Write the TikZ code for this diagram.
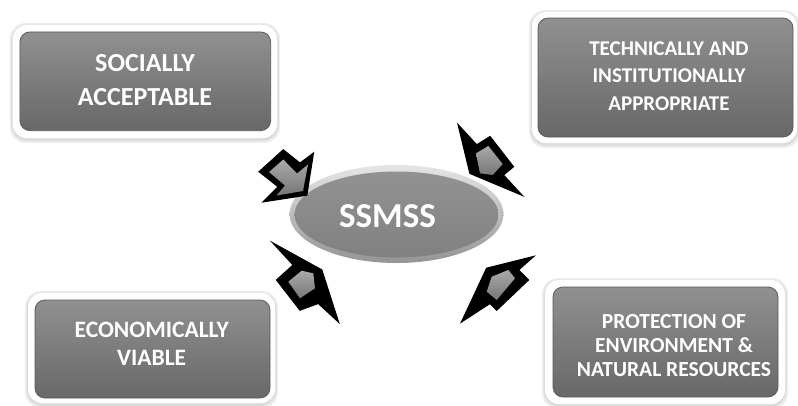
\documentclass[tikz,border=0pt]{standalone}
\usepackage{fontspec}
\setmainfont{Carlito}
\usetikzlibrary{shapes.geometric}
\definecolor{boxtop}{HTML}{909090}
\definecolor{boxbot}{HTML}{686868}
\definecolor{boxedge}{HTML}{5A5A5A}
\definecolor{arrgray}{HTML}{8C8C8C}
\definecolor{ellgray}{HTML}{8C8C8C}
\tikzset{
  frameshadow/.style={fill=black, opacity=0.07, rounded corners=16pt},
  frame/.style={fill=white, rounded corners=14pt},
  box/.style={shade, top color=boxtop, bottom color=boxbot, draw=boxedge, line width=0.8pt,
    rounded corners=10pt, inner sep=0pt},
  boxtext/.style={text=white, align=center, inner sep=0pt, font=\bfseries},
  arrowout/.style={fill=black, draw=black, line width=1.4pt, line join=miter, miter limit=20},
  arrowin/.style={shade, top color=arrgray!75!white, bottom color=arrgray!85!black},
}
\begin{document}
\begin{tikzpicture}[x=1pt,y=-1pt]
\useasboundingbox (0,0) rectangle (798,405);
\fill[white] (0,0) rectangle (798,405);

% ---------- box frames ----------
\foreach \a/\b/\c/\d in {12.7/25/277/138, 532/12/797/143, 28/293/275/403, 545/280/785/404}{
  \fill[frameshadow] (\a-3,\b-2) rectangle (\c+3,\d+5);
  \fill[frameshadow] (\a-1.5,\b-0.5) rectangle (\c+1.5,\d+3);
  \fill[frame] (\a,\b) rectangle (\c,\d);
}

% ---------- boxes ----------
\node[box, minimum width=250.7pt, minimum height=98.7pt] (socbox) at (145.3,81.3) {};
\node[box, minimum width=255pt, minimum height=119pt] (techbox) at (665.5,77.5) {};
\node[box, minimum width=235pt, minimum height=98pt] (ecobox) at (152.5,349) {};
\node[box, minimum width=225pt, minimum height=110pt] (protbox) at (665.5,342) {};

\node[boxtext, font=\bfseries\fontsize{26}{33.3}\selectfont] (soc) at (145,80) {SOCIALLY\\ACCEPTABLE};
\node[boxtext, font=\bfseries\fontsize{21}{27.5}\selectfont] (tech) at (669,75.8) {TECHNICALLY AND\\INSTITUTIONALLY\\APPROPRIATE};
\node[boxtext, font=\bfseries\fontsize{23.5}{28}\selectfont] (eco) at (151.7,344) {ECONOMICALLY\\VIABLE};
\node[boxtext, font=\bfseries\fontsize{21.5}{24.2}\selectfont] (prot) at (674,345.5) {PROTECTION OF\\ENVIRONMENT \&\\NATURAL RESOURCES};

% ---------- central ellipse ----------
\shade[top color=black!10, bottom color=black!42] (396.5,214) ellipse [x radius=107, y radius=49];
\node[ellipse, shade, top color=ellgray!95!white, bottom color=ellgray!92!black,
  minimum width=204pt, minimum height=86pt, inner sep=0pt] (ssmss) at (396.5,214.5) {};
\node[text=white, inner sep=0pt, font=\bfseries\fontsize{35}{40}\selectfont] (ssmsslabel) at (387.5,216) {SSMSS};

% ---------- arrows ----------
% top-left
\path[arrowout] (259.3,171.7) -- (283.3,150) -- (300,163.3) -- (313.3,153.3) -- (306.7,195) -- (263.3,201.7) -- (278.3,186.7) -- cycle;
\path[arrowin] (269,172) -- (283.3,159.5) -- (297,173.5) -- (308,164.5) -- (303,191) -- (276.5,195.5) -- (285,185.5) -- cycle;
% top-right
\path[arrowout] (458.3,125) -- (476.7,145) -- (490,136.7) -- (513.3,166.7) -- (503.3,175) -- (521.7,195) -- (470,173.3) -- cycle;
\path[arrowin] (476,153.3) -- (488.3,146) -- (502.7,164) -- (492.7,175) -- (480,173.3) -- cycle;
% bottom-left
\path[arrowout] (273.3,243.3) -- (321.7,270) -- (338.3,321.7) -- (318.3,303.3) -- (300,310) -- (276.7,280) -- (293.3,265) -- cycle;
\path[arrowin] (288.3,281.7) -- (301.7,270.7) -- (313.3,273.3) -- (315,288.3) -- (300,298.3) -- cycle;
% bottom-right
\path[arrowout] (533.3,256.7) -- (518.3,270) -- (528.3,280) -- (496.7,310) -- (490,303.3) -- (461.7,321.7) -- (486.7,268.3) -- cycle;
\path[arrowin] (491.7,276.7) -- (508.3,270) -- (515,278.3) -- (496.7,300) -- (486.7,291.7) -- cycle;
\end{tikzpicture}
\end{document}
